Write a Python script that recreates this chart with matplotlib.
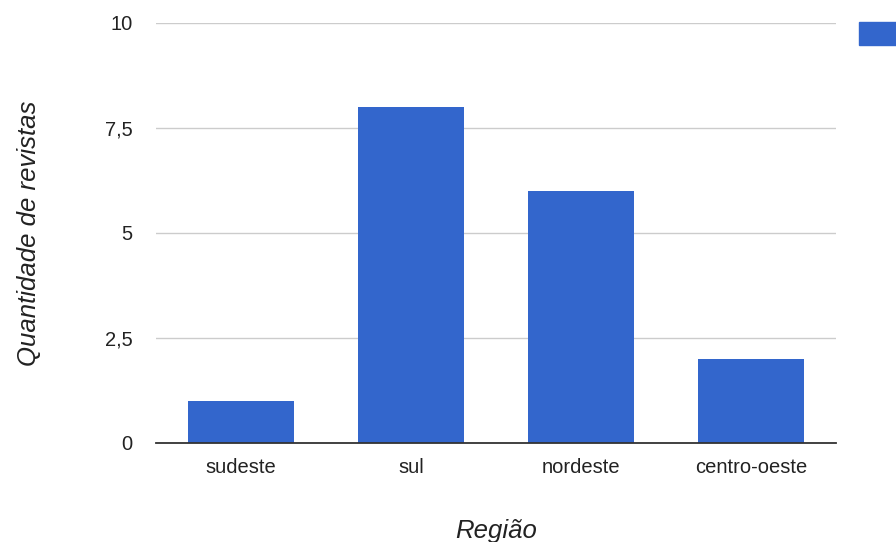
import matplotlib
matplotlib.use("Agg")
import matplotlib.pyplot as plt
from matplotlib.patches import Rectangle

regioes = ["sudeste", "sul", "nordeste", "centro-oeste"]
revistas = [1, 8, 6, 2]
y_ticks = [0, 2.5, 5, 7.5, 10]
y_tick_labels = ["0", "2,5", "5", "7,5", "10"]

azul = "#3366cc"

plt.rcParams["font.family"] = ["Liberation Sans", "DejaVu Sans"]

fig = plt.figure(figsize=(8.96, 5.42), dpi=100)
ax = fig.add_axes([0.174, 0.1827, 0.759, 0.775])

x = range(len(regioes))
ax.bar(x, revistas, width=0.62, color=azul, zorder=2)

ax.set_xlim(-0.5, len(regioes) - 0.5)
ax.set_ylim(0, 10)
ax.set_yticks(y_ticks)
ax.set_yticklabels(y_tick_labels)
ax.set_xticks(list(x))
ax.set_xticklabels(regioes)

# grid lines only, no frame except the baseline
for s in ["top", "right", "left"]:
    ax.spines[s].set_visible(False)
ax.spines["bottom"].set_color("#333333")
ax.spines["bottom"].set_linewidth(1.3)
ax.spines["bottom"].set_zorder(3)
ax.yaxis.grid(True, color="#cccccc", linewidth=1.0, zorder=0)
ax.tick_params(axis="both", length=0, labelsize=14.5, colors="#222222")
ax.tick_params(axis="y", pad=17)
ax.tick_params(axis="x", pad=11)

ax.set_xlabel("Região", fontsize=18.5, style="italic", color="#222222", labelpad=30)
ax.set_ylabel("Quantidade de revistas", fontsize=18.5, style="italic",
              color="#222222", labelpad=46)

# legend swatch, cut off at the right edge
fig.patches.append(Rectangle((0.9587, 0.917), 0.06, 0.042,
                             transform=fig.transFigure, color=azul))

fig.savefig("out.png", dpi=100)
